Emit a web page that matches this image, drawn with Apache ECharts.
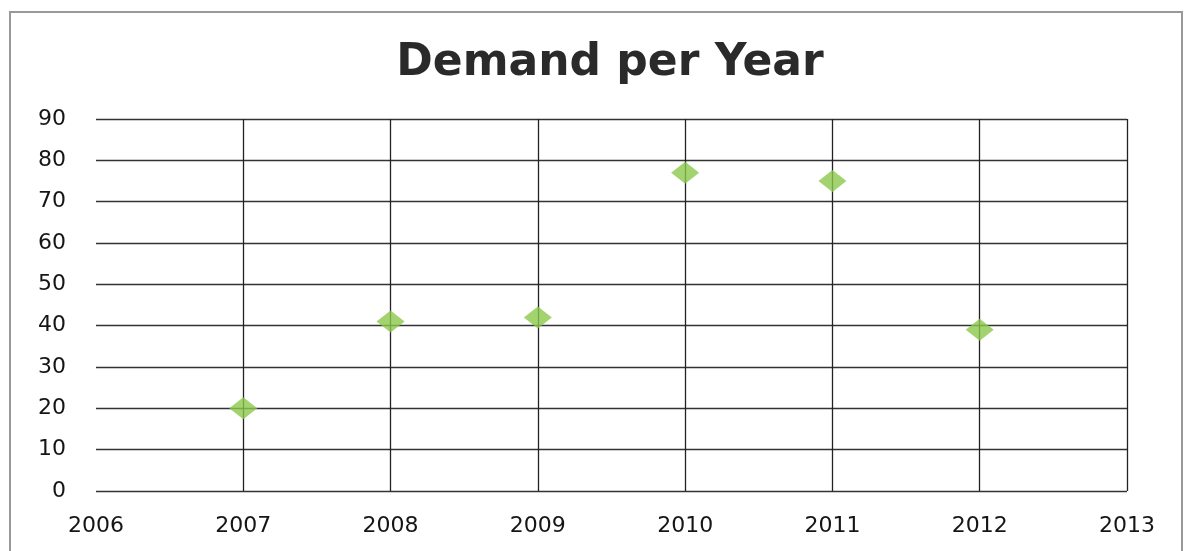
<!DOCTYPE html>
<html><head><meta charset="utf-8">
<script src="https://cdn.jsdelivr.net/npm/echarts@6/dist/echarts.min.js"></script>
<style>html,body{margin:0;padding:0;background:#fff}#c{width:1185px;height:551px}</style>
</head><body><div id="c"></div>
<script>
const years = [2007, 2008, 2009, 2010, 2011, 2012];
const demand = [20, 41, 42, 77, 75, 39];
const chartTitle = 'Demand per Year';

const chart = echarts.init(document.getElementById('c'));
chart.setOption({
  animation: false,
  backgroundColor: '#fff',
  title: {
    text: chartTitle, left: 605, textAlign: 'center', top: 37,
    textStyle: {fontFamily: 'DejaVu Sans', fontWeight: 'bold', fontSize: 44, color: '#2a2a2a'}
  },
  graphic: [{
    type: 'rect', shape: {x: 10, y: 12, width: 1172, height: 560},
    style: {fill: 'none', stroke: '#999', lineWidth: 2}
  }],
  grid: {left: 96, right: 58, top: 119, bottom: 60},
  xAxis: {
    type: 'value', min: 2006, max: 2013, interval: 1,
    axisLine: {show: false}, axisTick: {show: false},
    axisLabel: {fontFamily: 'DejaVu Sans', fontSize: 22, color: '#151515', margin: 24,
      formatter: v => String(v)},
    splitLine: {show: true, showMinLine: false, lineStyle: {color: '#222', width: 1.3}}
  },
  yAxis: {
    type: 'value', min: 0, max: 90, interval: 10,
    axisLine: {show: false}, axisTick: {show: false},
    axisLabel: {fontFamily: 'DejaVu Sans', fontSize: 22, color: '#151515', margin: 30},
    splitLine: {show: true, lineStyle: {color: '#333', width: 1.3}}
  },
  series: [{
    type: 'scatter',
    data: years.map((y, i) => [y, demand[i]]),
    symbol: 'diamond', symbolSize: [28, 22],
    itemStyle: {color: '#8cc84b'}
  }]
});
</script></body></html>
